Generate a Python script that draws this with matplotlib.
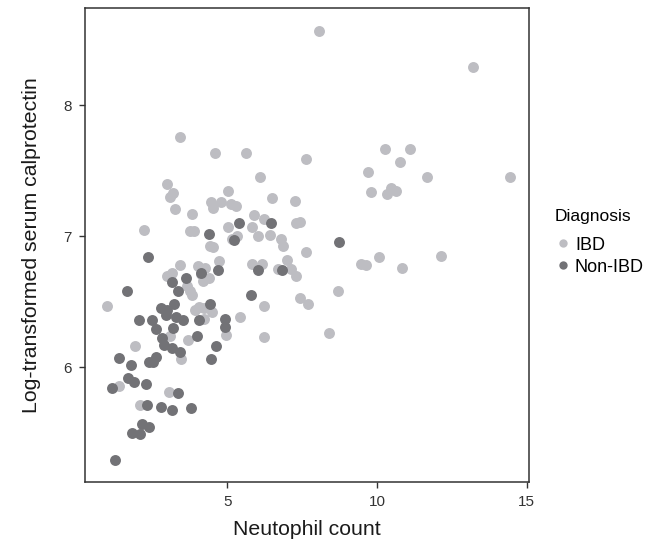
import matplotlib.pyplot as plt
from matplotlib.lines import Line2D

# IBD group (light grey points)
ibd_x = [8.05, 13.21, 10.27, 11.11, 10.76, 9.71, 11.68, 14.43, 9.80, 10.48,
         10.64, 10.33, 7.62, 7.64, 10.08, 12.14, 9.47, 9.63, 10.85, 8.69,
         7.43, 7.69, 8.39, 3.41, 4.60, 5.61, 6.10, 2.99, 3.20, 3.10,
         5.04, 3.27, 4.45, 4.52, 4.80, 5.13, 5.30, 6.48, 7.25, 3.81,
         5.90, 6.23, 7.29, 7.43, 2.23, 3.77, 3.89, 5.01, 5.81, 6.04,
         6.41, 6.79, 6.87, 5.32, 5.17, 4.41, 4.52, 4.71, 6.99, 3.42,
         4.01, 4.27, 2.99, 3.15, 4.12, 4.18, 4.38, 3.67, 3.75, 3.83,
         5.81, 6.17, 6.69, 7.12, 7.29, 6.23, 6.23, 0.98, 3.91, 4.07,
         4.23, 4.49, 4.23, 5.44, 4.95, 3.69, 3.09, 3.45, 1.92, 1.40,
         3.04, 2.09]
ibd_y = [8.57, 8.29, 7.67, 7.67, 7.57, 7.49, 7.45, 7.45, 7.34, 7.37,
         7.35, 7.32, 7.59, 6.88, 6.84, 6.85, 6.79, 6.78, 6.76, 6.58,
         6.53, 6.48, 6.26, 7.76, 7.64, 7.64, 7.45, 7.40, 7.33, 7.30,
         7.35, 7.21, 7.26, 7.22, 7.26, 7.25, 7.23, 7.29, 7.27, 7.17,
         7.16, 7.13, 7.10, 7.11, 7.05, 7.04, 7.04, 7.07, 7.07, 7.00,
         7.01, 6.98, 6.93, 7.00, 6.98, 6.93, 6.92, 6.81, 6.82, 6.78,
         6.77, 6.76, 6.70, 6.72, 6.71, 6.66, 6.68, 6.62, 6.58, 6.55,
         6.79, 6.79, 6.75, 6.75, 6.70, 6.47, 6.23, 6.47, 6.44, 6.46,
         6.45, 6.42, 6.37, 6.38, 6.25, 6.21, 6.24, 6.06, 6.16, 5.86,
         5.81, 5.71]

# Non-IBD group (dark grey points)
non_x = [8.73, 5.38, 6.45, 4.38, 5.24, 2.35, 4.68, 6.02, 6.84, 3.14,
         3.62, 4.11, 3.37, 5.78, 1.64, 3.21, 4.43, 2.78, 2.98, 2.96,
         3.28, 3.52, 3.18, 2.06, 2.48, 2.62, 4.07, 4.92, 4.92, 3.98,
         2.83, 2.90, 3.15, 3.42, 4.63, 4.45, 1.40, 1.79, 2.40, 2.53,
         2.63, 1.69, 1.89, 1.15, 2.27, 3.36, 2.33, 2.79, 3.17, 3.80,
         2.14, 2.40, 1.82, 2.09, 1.26]
non_y = [6.96, 7.10, 7.10, 7.02, 6.97, 6.84, 6.74, 6.74, 6.74, 6.65,
         6.68, 6.72, 6.58, 6.55, 6.58, 6.48, 6.48, 6.45, 6.44, 6.40,
         6.38, 6.36, 6.30, 6.36, 6.36, 6.29, 6.36, 6.37, 6.31, 6.24,
         6.22, 6.17, 6.15, 6.12, 6.16, 6.06, 6.07, 6.02, 6.04, 6.04,
         6.08, 5.92, 5.89, 5.84, 5.87, 5.80, 5.71, 5.70, 5.67, 5.69,
         5.57, 5.54, 5.50, 5.49, 5.29]

x_ticks = [5, 10, 15]
y_ticks = [6, 7, 8]
groups = ['IBD', 'Non-IBD']

plt.rcParams['font.family'] = ['Liberation Sans', 'DejaVu Sans']

fig = plt.figure(figsize=(6.59, 5.47), dpi=100)
ax = fig.add_axes([0.129, 0.119, 0.674, 0.867])

light = '#bdbdc2'
dark = '#727276'
ax.scatter(ibd_x, ibd_y, s=62, c=light, linewidths=0, zorder=2)
ax.scatter(non_x, non_y, s=62, c=dark, linewidths=0, zorder=3)

ax.set_xlim(0.25, 15.08)
ax.set_ylim(5.124, 8.747)
ax.set_xticks(x_ticks)
ax.set_yticks(y_ticks)
ax.set_xticklabels([str(t) for t in x_ticks])
ax.set_yticklabels([str(t) for t in y_ticks])

for sp in ax.spines.values():
    sp.set_color('#333333')
    sp.set_linewidth(1.1)
ax.tick_params(direction='out', length=4.5, width=1.0, color='#333333',
               labelsize=11, labelcolor='#333333', pad=5)

ax.set_xlabel('Neutophil count', fontsize=15.3, color='#1a1a1a', labelpad=8)
ax.set_ylabel('Log-transformed serum calprotectin', fontsize=15.3,
              color='#1a1a1a', labelpad=16)

# legend placed to the right of the panel
handles = [Line2D([], [], ls='none', marker='o', ms=6, mec='none', mfc=c)
           for c in (light, dark)]
leg = ax.legend(handles, groups, title='Diagnosis', loc='upper left',
                bbox_to_anchor=(546 / 659, 1 - 200 / 547),
                bbox_transform=fig.transFigure,
                frameon=False, fontsize=13, title_fontsize=12.5,
                handletextpad=0.2, labelspacing=0.28,
                borderpad=0, handlelength=0.9)
leg._legend_box.align = 'left'
leg._legend_box.sep = 9

fig.savefig('out.png', dpi=100)
